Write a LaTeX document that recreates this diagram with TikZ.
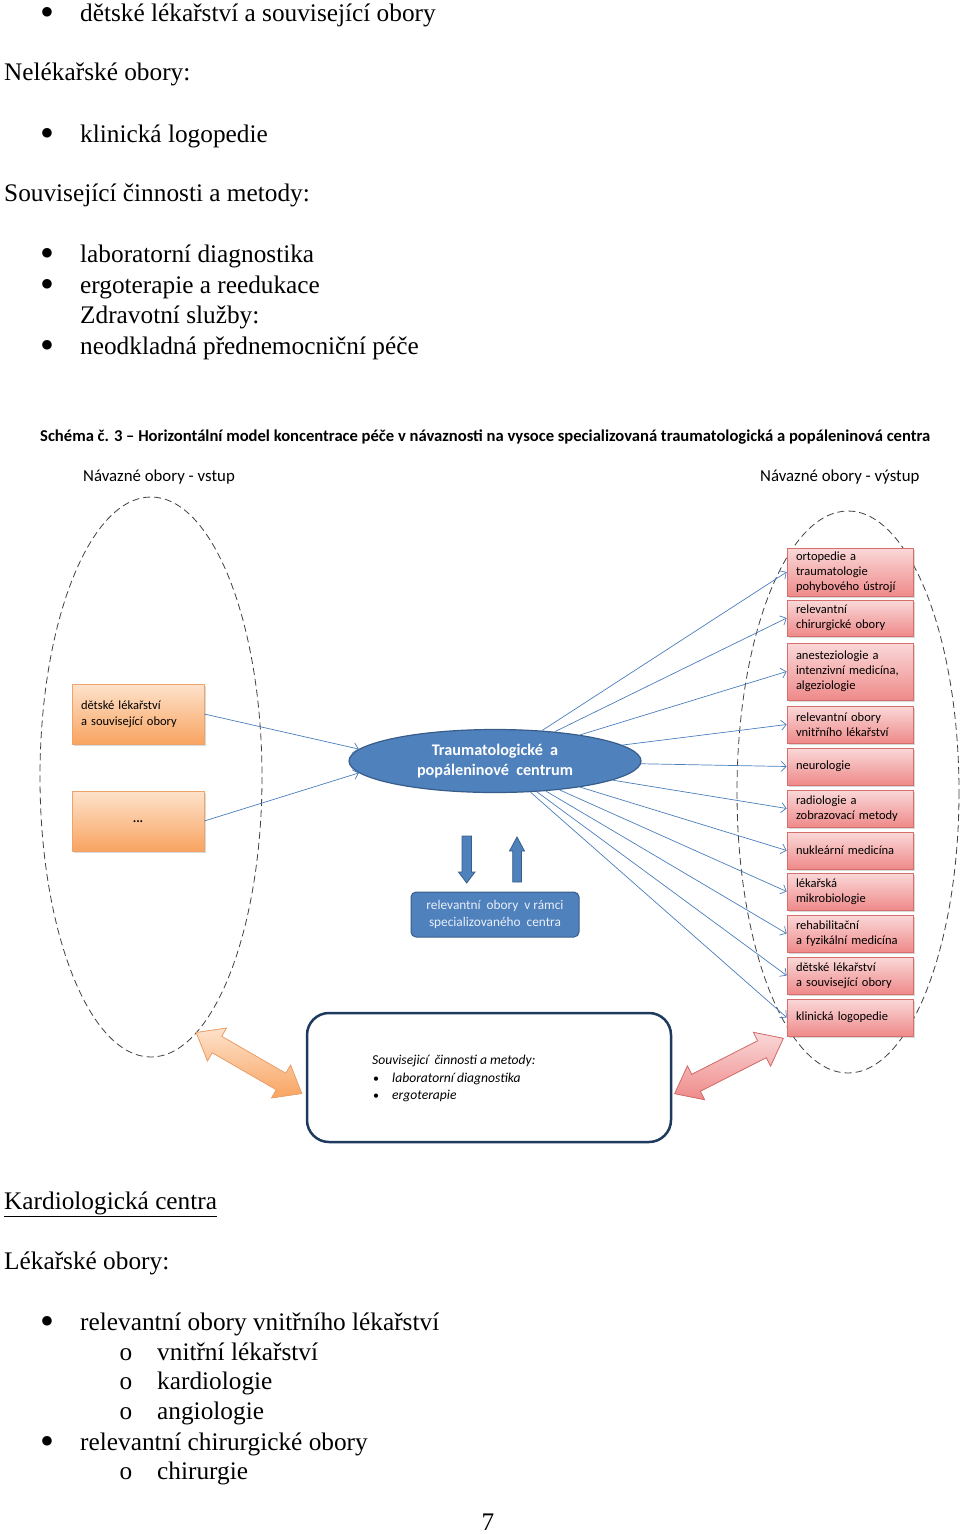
\documentclass[tikz,border=0pt]{standalone}
\usepackage{fontspec}
\setmainfont{Liberation Serif}
\newfontfamily\calfont{Carlito}
\newfontfamily\dvfont{DejaVu Sans}
\usetikzlibrary{shapes.geometric,arrows.meta,shadows}
\definecolor{orangeTop}{HTML}{FDE2CB}
\definecolor{orangeBot}{HTML}{F9A461}
\definecolor{orangeLine}{HTML}{EFA36B}
\definecolor{pinkTop}{HTML}{FAD8D8}
\definecolor{pinkBot}{HTML}{EF8A8A}
\definecolor{pinkLine}{HTML}{D66E6B}
\definecolor{steel}{HTML}{4F81BD}
\definecolor{steelDark}{HTML}{385D8A}
\definecolor{connC}{HTML}{4A7EBB}
\definecolor{navy}{HTML}{1F3A5F}
\definecolor{paleText}{HTML}{E9EFF8}
\begin{document}
\begin{tikzpicture}[x=1pt,y=-1pt,
  body/.style={anchor=base west, inner sep=0pt, font=\fontsize{25.3}{30}\selectfont},
  bul/.style={anchor=base, inner sep=0pt, font=\fontsize{25.3}{30}\selectfont},
  bigbul/.style={anchor=center, inner sep=0pt, yshift=9pt, font=\dvfont\fontsize{12.5}{14}\selectfont},
  obox/.style={draw=orangeLine, line width=0.6pt, top color=orangeTop, bottom color=orangeBot,
    minimum width=132pt, minimum height=60pt, text width=114pt, inner xsep=9pt, inner ysep=0pt,
    align=left, font=\calfont\fontsize{12.5}{15.5}\selectfont,
    drop shadow={shadow xshift=1.5pt, shadow yshift=-2pt, opacity=0.3}},
  pbox/.style={draw=pinkLine, line width=0.6pt, top color=pinkTop, bottom color=pinkBot,
    minimum width=126pt, text width=108pt, inner xsep=9pt, inner ysep=0pt,
    align=left, font=\calfont\fontsize{12.5}{15}\selectfont,
    drop shadow={shadow xshift=1.5pt, shadow yshift=-2pt, opacity=0.3}},
  conn/.style={draw=connC, line width=0.7pt, -{Straight Barb[length=5pt,width=10pt]}},
  dell/.style={draw=black!75, dash pattern=on 7pt off 4pt, line width=0.8pt},
  dtxt/.style={anchor=base west, inner sep=0pt},
  blockarr/.style={fill=steel, draw=steelDark, line width=0.8pt},
]
\useasboundingbox (0,0) rectangle (960,1534);

% ---------- top text ----------
\node[bigbul] (b1) at (47,21) {●};
\node[body] (t1) at (80,21) {dětské lékařství a související obory};
\node[body] (t2) at (4,80) {Nelékařské obory:};
\node[bigbul] (b3) at (47,142) {●};
\node[body] (t3) at (80,142) {klinická logopedie};
\node[body] (t4) at (4,201) {Související činnosti a metody:};
\node[bigbul] (b5) at (47,262) {●};
\node[body] (t5) at (80,262) {laboratorní diagnostika};
\node[bigbul] (b6) at (47,293) {●};
\node[body] (t6) at (80,293) {ergoterapie a reedukace};
\node[body] (t7) at (80,323) {Zdravotní služby:};
\node[bigbul] (b8) at (47,354) {●};
\node[body] (t8) at (80,354) {neodkladná přednemocniční péče};

% ---------- diagram ----------
\node[dtxt, font=\calfont\bfseries\fontsize{16.6}{19}\selectfont] (title) at (40,441)
  {Schéma č. 3 – Horizontální model koncentrace péče v návaznosti na vysoce specializovaná traumatologická a popáleninová centra};
\node[dtxt, font=\calfont\fontsize{16.8}{19}\selectfont] (lin) at (83,481) {Návazné obory - vstup};
\node[dtxt, font=\calfont\fontsize{16.8}{19}\selectfont] (lout) at (760,481) {Návazné obory - výstup};

\draw[dell] (151,777) ellipse [x radius=111, y radius=280];
\draw[dell] (848,792) ellipse [x radius=111, y radius=281];

% left boxes
\node[obox] (l1) at (138,714) {dětské lékařství\\a související obory};
\node[obox, align=center, font=\calfont\bfseries\fontsize{13}{15}\selectfont] (l2) at (138,821) {\raisebox{-3pt}{...}};

% central ellipse
\node[ellipse, draw=steelDark, line width=1.2pt, fill=steel, minimum width=292pt, minimum height=63pt,
  inner sep=0pt, align=center, text=white, font=\calfont\bfseries\fontsize{16.2}{20}\selectfont] (ce) at (495,761)
  {Traumatologické\ \ a\\popáleninové\ \ centrum};

% right boxes
\node[pbox, minimum height=48pt] (r1) at (850,572) {ortopedie a\\traumatologie\\pohybového ústrojí};
\node[pbox, minimum height=36pt] (r2) at (850,618) {relevantní\\chirurgické obory};
\node[pbox, minimum height=57pt] (r3) at (850,671.5) {anesteziologie a\\intenzivní medicína,\\algeziologie};
\node[pbox, minimum height=37pt] (r4) at (850,724.5) {relevantní obory\\vnitřního lékařství};
\node[pbox, minimum height=37pt] (r5) at (850,766.5) {neurologie};
\node[pbox, minimum height=37pt] (r6) at (850,808.5) {radiologie a\\zobrazovací metody};
\node[pbox, minimum height=37pt] (r7) at (850,850.5) {nukleární medicína};
\node[pbox, minimum height=37pt] (r8) at (850,891.5) {lékařská\\mikrobiologie};
\node[pbox, minimum height=37pt] (r9) at (850,933.5) {rehabilitační\\a fyzikální medicína};
\node[pbox, minimum height=37pt] (r10) at (850,975.5) {dětské lékařství\\a související obory};
\node[pbox, minimum height=37pt] (r11) at (850,1017.5) {klinická logopedie};

% connectors
\draw[conn] (l1.east) -- (ce.175);
\draw[conn] (l2.east) -- (ce.185);
\foreach \i in {1,...,11} { \draw[conn] (ce) -- (r\i.west); }

% inner block arrows
\filldraw[blockarr] (462,836) -- (471.5,836) -- (471.5,872) -- (475,872) -- (466.7,883) -- (458.5,872) -- (462,872) -- cycle;
\filldraw[blockarr] (512.7,882) -- (521.5,882) -- (521.5,851) -- (524.5,851) -- (517,837) -- (509.5,851) -- (512.7,851) -- cycle;

\node[draw=steelDark, line width=1pt, fill=steel, rounded corners=5pt, minimum width=168pt, minimum height=45pt,
  inner sep=0pt, align=center, text=paleText, font=\calfont\fontsize{13.3}{16.5}\selectfont] (spec) at (495,914.5)
  {relevantní\ \ obory\ \ v\ rámci\\specializovaného\ \ centra};

% bottom box
\node[draw=navy, line width=2.5pt, rounded corners=22pt, fill=white, minimum width=364pt, minimum height=129pt,
  inner sep=0pt] (bb) at (489,1077.5) {};
\node[dtxt, font=\calfont\itshape\fontsize{13.6}{15}\selectfont] (s0) at (372,1064) {Souvisejicí\ \ činnosti a metody:};
\node[anchor=base, inner sep=0pt, font=\calfont\fontsize{12}{15}\selectfont] (s1b) at (376,1082) {•};
\node[dtxt, font=\calfont\itshape\fontsize{13.6}{15}\selectfont] (s1) at (392,1082) {laboratorní diagnostika};
\node[anchor=base, inner sep=0pt, font=\calfont\fontsize{12}{15}\selectfont] (s2b) at (376,1099) {•};
\node[dtxt, font=\calfont\itshape\fontsize{13.6}{15}\selectfont] (s2) at (392,1099) {ergoterapie};

% double arrows
\begin{scope}[shift={(249,1063)}, rotate=-30]
  \filldraw[draw=orangeLine, line width=0.8pt, top color=orangeTop, bottom color=orangeBot]
    (-61,0) -- (-37,19) -- (-37,9.5) -- (37,9.5) -- (37,19) -- (61,0) -- (37,-19) -- (37,-9.5) -- (-37,-9.5) -- (-37,-19) -- cycle;
\end{scope}
\begin{scope}[shift={(729,1066)}, rotate=27]
  \filldraw[draw=pinkLine, line width=0.8pt, top color=pinkTop, bottom color=pinkBot]
    (-61,0) -- (-37,19) -- (-37,9.5) -- (37,9.5) -- (37,19) -- (61,0) -- (37,-19) -- (37,-9.5) -- (-37,-9.5) -- (-37,-19) -- cycle;
\end{scope}

% ---------- bottom text ----------
\node[body] (k0) at (4,1209) {\underline{Kardiologická centra}};
\node[body] (k1) at (4,1269) {Lékařské obory:};
\node[bigbul] (kb2) at (47,1330) {●};
\node[body] (k2) at (80,1330) {relevantní obory vnitřního lékařství};
\node[bul] (ko3) at (126,1360) {o};
\node[body] (k3) at (157,1360) {vnitřní lékařství};
\node[bul] (ko4) at (126,1389) {o};
\node[body] (k4) at (157,1389) {kardiologie};
\node[bul] (ko5) at (126,1419) {o};
\node[body] (k5) at (157,1419) {angiologie};
\node[bigbul] (kb6) at (47,1450) {●};
\node[body] (k6) at (80,1450) {relevantní chirurgické obory};
\node[bul] (ko7) at (126,1479) {o};
\node[body] (k7) at (157,1479) {chirurgie};
\node[bul] (pg) at (488,1530) {7};
\end{tikzpicture}
\end{document}
